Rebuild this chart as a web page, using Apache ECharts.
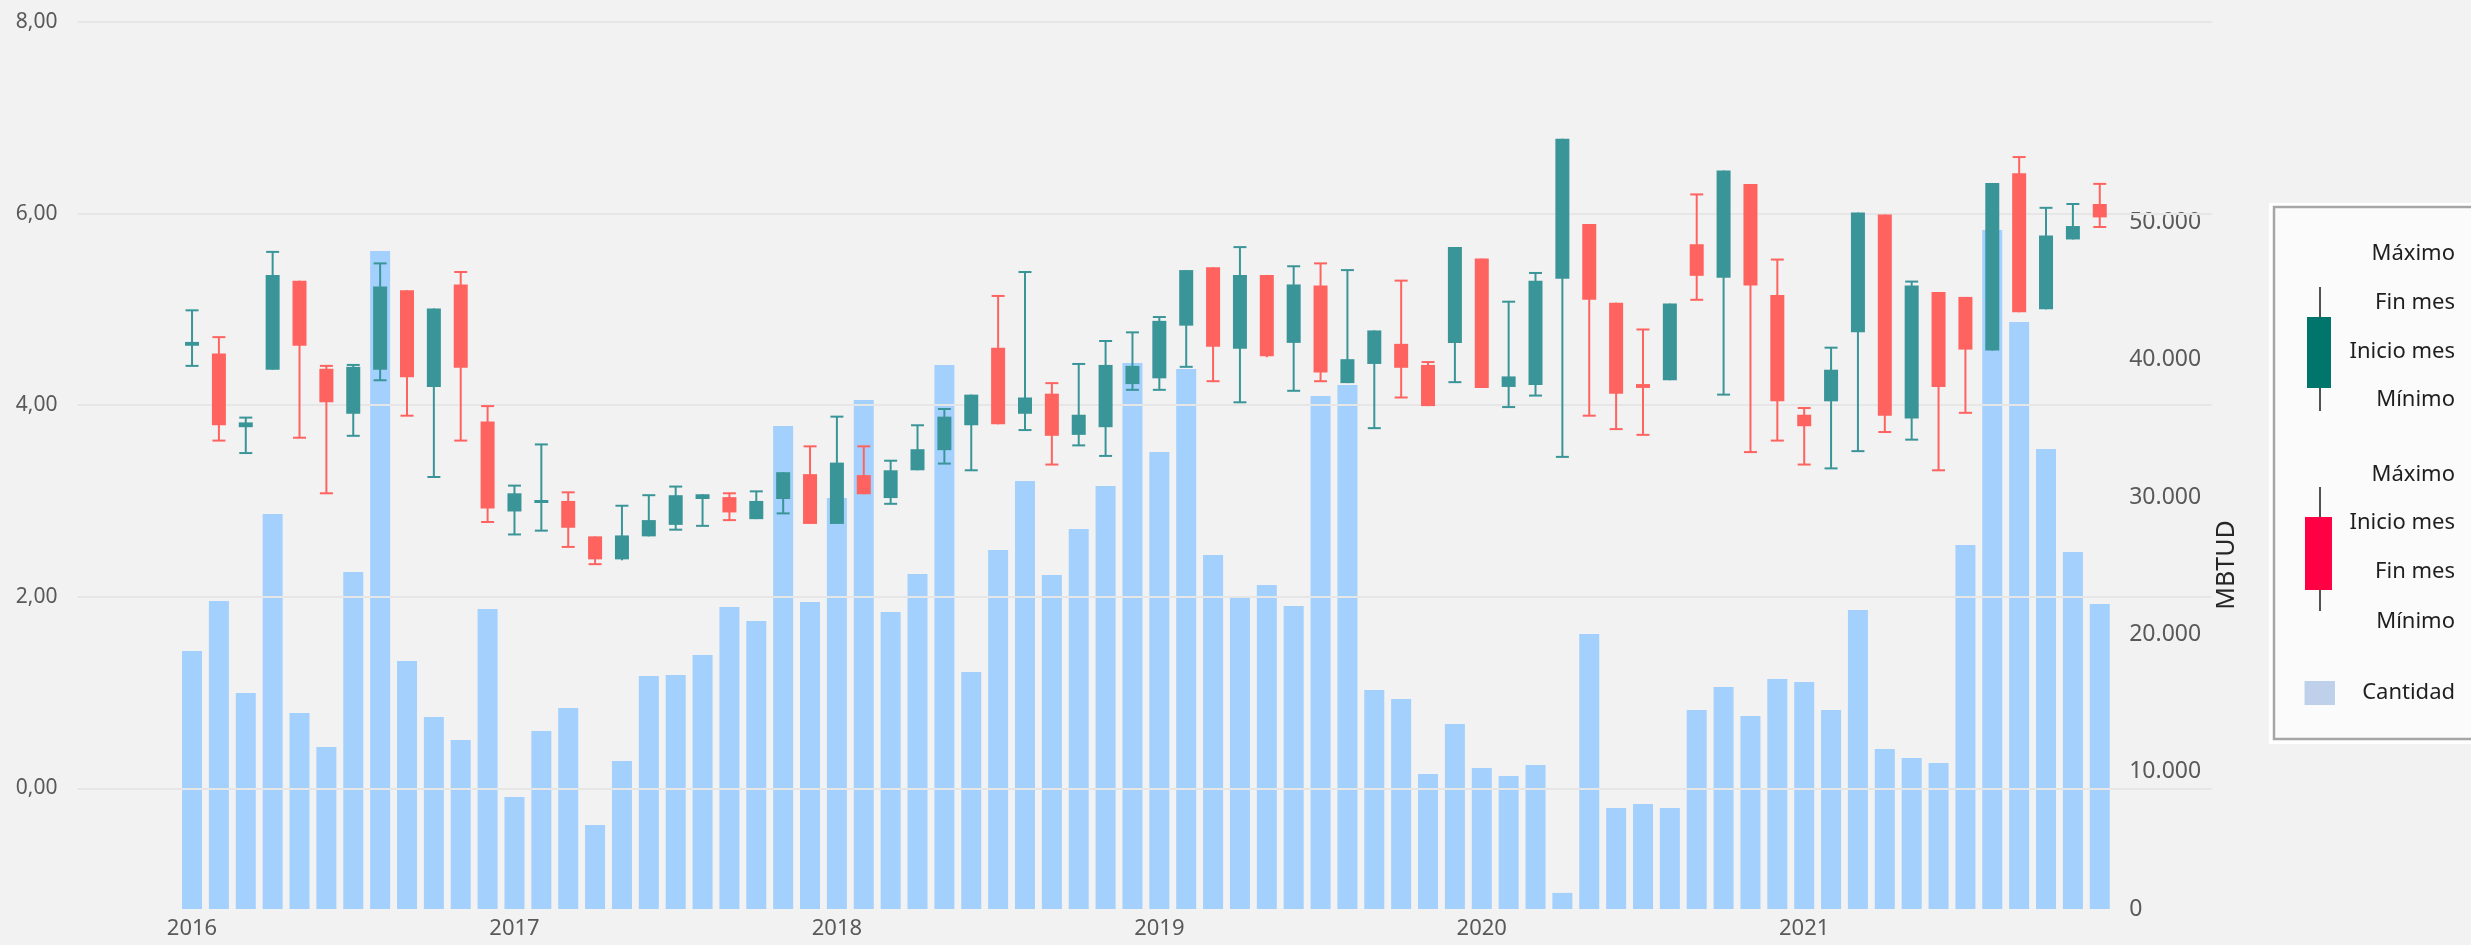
<!DOCTYPE html>
<html>
<head>
<meta charset="utf-8">
<script src="https://cdn.jsdelivr.net/npm/echarts@6/dist/echarts.min.js"></script>
<style>
  html, body { margin: 0; padding: 0; background: #f2f2f2; }
  #chart { width: 2471px; height: 945px; }
</style>
</head>
<body>
<div id="chart"></div>
<script>
// Monthly categories, Jan 2016 – Dec 2021
const years = ['2016', '2017', '2018', '2019', '2020', '2021'];
const monthCodes = ['01', '02', '03', '04', '05', '06', '07', '08', '09', '10', '11', '12'];
const months = [];
years.forEach(y => monthCodes.forEach(m => months.push(y + '-' + m)));

// Price per month (left axis)
const openPrice = [
  4.62, 4.54, 3.77, 4.37, 5.30, 4.38, 3.91, 4.37, 5.20, 4.19, 5.26, 3.83,
  2.89, 2.98, 3.00, 2.63, 2.39, 2.63, 2.75, 3.02, 3.04, 2.81, 3.02, 3.28,
  2.76, 3.27, 3.03, 3.32, 3.53, 3.79, 4.60, 3.91, 4.12, 3.69, 3.77, 4.22,
  4.28, 4.83, 5.44, 4.59, 5.36, 4.65, 5.25, 4.23, 4.43, 4.64, 4.42, 4.65,
  5.53, 4.19, 4.21, 5.32, 5.89, 5.07, 4.22, 4.26, 5.68, 5.33, 6.31, 5.15,
  3.90, 4.04, 4.76, 5.99, 3.86, 5.18, 5.13, 4.57, 6.42, 5.00, 5.73, 6.10
];
const closePrice = [
  4.66, 3.79, 3.82, 5.36, 4.62, 4.03, 4.40, 5.24, 4.29, 5.01, 4.39, 2.92,
  3.08, 3.01, 2.72, 2.39, 2.64, 2.80, 3.06, 3.07, 2.88, 3.00, 3.30, 2.76,
  3.40, 3.07, 3.32, 3.54, 3.88, 4.11, 3.80, 4.08, 3.68, 3.90, 4.42, 4.41,
  4.88, 5.41, 4.61, 5.36, 4.51, 5.26, 4.34, 4.48, 4.78, 4.39, 3.99, 5.65,
  4.18, 4.30, 5.30, 6.78, 5.10, 4.12, 4.18, 5.06, 5.35, 6.45, 5.25, 4.04,
  3.78, 4.37, 6.01, 3.89, 5.25, 4.19, 4.58, 6.32, 4.97, 5.77, 5.87, 5.96
];
const lowPrice = [
  4.41, 3.63, 3.50, 4.37, 3.66, 3.08, 3.68, 4.26, 3.89, 3.25, 3.63, 2.78,
  2.65, 2.69, 2.52, 2.34, 2.38, 2.63, 2.70, 2.74, 2.80, 2.81, 2.87, 2.76,
  2.76, 3.07, 2.97, 3.32, 3.39, 3.32, 3.80, 3.74, 3.38, 3.58, 3.47, 4.16,
  4.16, 4.40, 4.25, 4.03, 4.50, 4.15, 4.25, 4.23, 3.76, 4.08, 3.99, 4.24,
  4.18, 3.98, 4.10, 3.46, 3.89, 3.75, 3.69, 4.26, 5.10, 4.11, 3.51, 3.63,
  3.38, 3.34, 3.52, 3.72, 3.64, 3.32, 3.92, 4.57, 4.97, 5.00, 5.73, 5.86
];
const highPrice = [
  4.99, 4.71, 3.87, 5.60, 5.30, 4.41, 4.42, 5.48, 5.20, 5.01, 5.39, 3.99,
  3.16, 3.59, 3.09, 2.63, 2.95, 3.06, 3.15, 3.07, 3.08, 3.10, 3.30, 3.57,
  3.88, 3.57, 3.42, 3.79, 3.96, 4.11, 5.14, 5.39, 4.23, 4.43, 4.67, 4.76,
  4.92, 5.41, 5.44, 5.65, 5.36, 5.45, 5.48, 5.41, 4.78, 5.30, 4.45, 5.65,
  5.53, 5.08, 5.38, 6.78, 5.89, 5.07, 4.79, 5.06, 6.20, 6.45, 6.31, 5.52,
  3.97, 4.60, 6.01, 5.99, 5.29, 5.18, 5.13, 6.32, 6.59, 6.06, 6.10, 6.31
];

// Quantity per month, MBTUD (right axis)
const volume = [
  18790, 22430, 15730, 28770, 14280, 11800, 24540, 47920, 18060, 13980, 12310, 21850,
  8160, 12960, 14640, 6120, 10780, 16970, 17040, 18500, 22000, 20980, 35180, 22360,
  29930, 37070, 21630, 24400, 39620, 17260, 26150, 31170, 24330, 27680, 30810, 39770,
  33280, 39330, 25780, 22670, 23600, 22070, 37360, 38160, 15950, 15300, 9830, 13470,
  10270, 9690, 10490, 1170, 20030, 7360, 7650, 7360, 14490, 16170, 14060, 16750,
  16530, 14490, 21780, 11650, 11000, 10630, 26510, 49450, 42750, 33500, 26000, 22210
];

const UP_COLOR = '#3a9598';
const DOWN_COLOR = '#ff6360';
const BAR_COLOR = '#a3d0fd';
const AXIS_FONT = '"Noto Sans", "Open Sans", sans-serif';

const candleData = months.map((m, i) => [i, openPrice[i], closePrice[i], lowPrice[i], highPrice[i]]);

// Candle with capped whiskers: wick, caps at high/low, then the body on top
function renderCandle(params, api) {
  const i = api.value(0);
  const o = api.value(1), c = api.value(2), lo = api.value(3), hi = api.value(4);
  const pO = api.coord([i, o]);
  const pC = api.coord([i, c]);
  const pL = api.coord([i, lo]);
  const pH = api.coord([i, hi]);
  const x = pO[0];
  const color = c >= o ? UP_COLOR : DOWN_COLOR;
  const bodyW = 14, capW = 13;
  const top = Math.min(pO[1], pC[1]);
  const bottom = Math.max(pO[1], pC[1]);
  const h = Math.max(bottom - top, 3);
  const children = [
    { type: 'line', shape: { x1: x, y1: pH[1], x2: x, y2: pL[1] },
      style: { stroke: color, lineWidth: 2 } }
  ];
  if (top - pH[1] > 1) {
    children.push({ type: 'line', shape: { x1: x - capW / 2, y1: pH[1], x2: x + capW / 2, y2: pH[1] },
      style: { stroke: color, lineWidth: 2 } });
  }
  if (pL[1] - bottom > 1) {
    children.push({ type: 'line', shape: { x1: x - capW / 2, y1: pL[1], x2: x + capW / 2, y2: pL[1] },
      style: { stroke: color, lineWidth: 2 } });
  }
  children.push({ type: 'rect', shape: { x: x - bodyW / 2, y: top, width: bodyW, height: h },
    style: { fill: color } });
  return { type: 'group', children: children };
}

const fmtPrice = v => v < 0 ? '' : v.toFixed(2).replace('.', ',');
const fmtQty = v => v > 50000 ? '' : String(v).replace(/\B(?=(\d{3})+(?!\d))/g, '.');

// Legend on the right: two candle keys and the quantity swatch
const LX = 2455;
const legendText = (text, y) => ({
  type: 'text', x: LX, y: y,
  style: { text: text, align: 'right', verticalAlign: 'middle',
           font: '22px "Noto Sans", sans-serif', fill: '#1f1f1f' }
});

const chart = echarts.init(document.getElementById('chart'), null, { renderer: 'canvas' });

chart.setOption({
  backgroundColor: '#f2f2f2',
  animation: false,
  grid: [
    { left: 77.5, right: 259.5, top: 22, bottom: 36 },
    { left: 178.6, right: 357.8, top: 22, bottom: 36 }
  ],
  xAxis: [
    { gridIndex: 0, type: 'value', min: 0, max: 1, show: false },
    {
      gridIndex: 1, type: 'category', data: months, boundaryGap: true,
      axisLine: { show: false }, axisTick: { show: false }, splitLine: { show: false },
      axisLabel: {
        interval: (idx) => idx % 12 === 0,
        formatter: (v) => v.slice(0, 4),
        color: '#595959', fontSize: 22, fontFamily: AXIS_FONT, margin: 9
      }
    }
  ],
  yAxis: [
    {
      gridIndex: 0, type: 'value', min: -1.26, max: 8, z: 3,
      axisLine: { show: false }, axisTick: { show: false },
      axisLabel: { formatter: fmtPrice, color: '#595959', fontSize: 21, fontFamily: AXIS_FONT,
                   margin: 20, showMinLabel: false },
      splitLine: { show: true, showMinLine: false, lineStyle: { color: '#e6e6e6', width: 2 } }
    },
    {
      gridIndex: 1, type: 'value', min: -1.26, max: 8, show: false,
      splitLine: { show: false }
    },
    {
      gridIndex: 1, type: 'value', position: 'right', min: 0, max: 64600,
      axisLine: { show: false }, axisTick: { show: false }, splitLine: { show: false },
      axisLabel: { formatter: fmtQty, color: '#595959', fontSize: 23, fontFamily: AXIS_FONT,
                   margin: 16, showMaxLabel: false }
    }
  ],
  series: [
    {
      name: 'Cantidad', type: 'bar', xAxisIndex: 1, yAxisIndex: 2,
      data: volume, barWidth: 20, z: 2,
      itemStyle: { color: BAR_COLOR }
    },
    {
      name: 'Precio', type: 'custom', xAxisIndex: 1, yAxisIndex: 1,
      data: candleData, renderItem: renderCandle, z: 5,
      encode: { x: 0, y: [1, 2, 3, 4] }
    }
  ],
  graphic: [
    { type: 'text', x: 2227, y: 565, rotation: Math.PI / 2,
      style: { text: 'MBTUD', align: 'center', verticalAlign: 'middle',
               font: '25px "Noto Sans", sans-serif', fill: '#262626' } },
    { type: 'rect', shape: { x: 2269, y: 203, width: 220, height: 541 }, style: { fill: '#ffffff' } },
    { type: 'rect', shape: { x: 2274, y: 207, width: 215, height: 532 },
      style: { fill: '#fbfbfb', stroke: '#a6a6a6', lineWidth: 2.5 } },
    { type: 'line', shape: { x1: 2320, y1: 287, x2: 2320, y2: 411 },
      style: { stroke: '#1a1a1a', lineWidth: 1.5 } },
    { type: 'rect', shape: { x: 2307, y: 317, width: 24, height: 71 }, style: { fill: '#00756b' } },
    legendText('Máximo', 254),
    legendText('Fin mes', 303),
    legendText('Inicio mes', 352),
    legendText('Mínimo', 400),
    { type: 'line', shape: { x1: 2320, y1: 487, x2: 2320, y2: 611 },
      style: { stroke: '#1a1a1a', lineWidth: 1.5 } },
    { type: 'rect', shape: { x: 2305, y: 517, width: 27, height: 73 }, style: { fill: '#ff0044' } },
    legendText('Máximo', 475),
    legendText('Inicio mes', 523),
    legendText('Fin mes', 572),
    legendText('Mínimo', 622),
    { type: 'rect', shape: { x: 2304.5, y: 681, width: 30.5, height: 24 }, style: { fill: '#bfd1ea' } },
    legendText('Cantidad', 693)
  ]
});
</script>
</body>
</html>
